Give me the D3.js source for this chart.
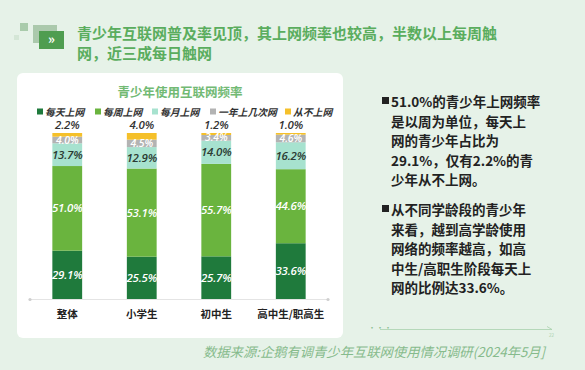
<!DOCTYPE html>
<html>
<head>
<meta charset="utf-8">
<script src="https://cdn.jsdelivr.net/npm/d3@7"></script>
<style>
  body { margin: 0; background: #e6f2e8; }
  svg { display: block; font-family: "Noto Sans CJK SC", "Noto Sans", sans-serif; }
</style>
</head>
<body>
<svg></svg>
<script>
const width = 585;
const height = 370;

// data
const categories = ['整体', '小学生', '初中生', '高中生/职高生'];
const seriesNames = ['每天上网', '每周上网', '每月上网', '一年上几次网', '从不上网'];
const daily = [29.1, 25.5, 25.7, 33.6];
const weekly = [51.0, 53.1, 55.7, 44.6];
const monthly = [13.7, 12.9, 14.0, 16.2];
const yearly = [4.0, 4.5, 3.4, 4.6];
const never = [2.2, 4.0, 1.2, 1.0];
const colors = ['#1f7a3c', '#6ab43e', '#a7e2cf', '#b3b3b3', '#f5c02a'];
const labelColors = ['#ffffff', '#ffffff', '#2b3b33', '#ffffff', '#333333'];

const titleLines = ['青少年互联网普及率见顶，其上网频率也较高，半数以上每周触', '网，近三成每日触网'];
const noteParas = [
  ['51.0%的青少年上网频率', '是以周为单位，每天上', '网的青少年占比为', '29.1%，仅有2.2%的青', '少年从不上网。'],
  ['从不同学龄段的青少年', '来看，越到高学龄使用', '网络的频率越高，如高', '中生/高职生阶段每天上', '网的比例达33.6%。']
];
const source = '数据来源:企鹅有调青少年互联网使用情况调研(2024年5月]';

const rows = categories.map((c, i) => ({
  cat: c, '每天上网': daily[i], '每周上网': weekly[i], '每月上网': monthly[i],
  '一年上几次网': yearly[i], '从不上网': never[i]
}));

const svg = d3.select('svg')
  .attr('width', width)
  .attr('height', height);

svg.append('rect').attr('width', width).attr('height', height).attr('fill', '#e6f2e8');

// HEADER
svg.append('rect').attr('x', 14).attr('y', 35).attr('width', 5).attr('height', 5).attr('fill', '#d4e6d6');
svg.append('rect').attr('x', 20).attr('y', 23).attr('width', 8).attr('height', 8).attr('fill', '#a9cbab');
svg.append('rect').attr('x', 33).attr('y', 25).attr('width', 24).attr('height', 18).attr('fill', '#abc9ac');
svg.append('rect').attr('x', 39).attr('y', 31).attr('width', 25).attr('height', 18).attr('fill', '#4f9d50');
svg.append('text').attr('x', 51.5).attr('y', 44).attr('text-anchor', 'middle')
  .attr('fill', '#fff').attr('font-size', 13).attr('font-weight', 700).text('»');

svg.append('g').selectAll('text')
  .data(titleLines)
  .enter().append('text')
  .attr('x', 77)
  .attr('y', (d, i) => 38.5 + i * 20)
  .attr('font-size', 15)
  .attr('font-weight', 700)
  .attr('fill', '#5aad5e')
  .text(d => d);

// PANEL
svg.append('rect')
  .attr('x', 17).attr('y', 73).attr('width', 326).attr('height', 265)
  .attr('rx', 6).attr('fill', '#ffffff');

svg.append('text')
  .attr('x', 180).attr('y', 96.5)
  .attr('text-anchor', 'middle')
  .attr('font-size', 12.5).attr('font-weight', 700)
  .attr('fill', '#72ba74')
  .text('青少年使用互联网频率');

// legend
const legendX = [37, 95, 152, 210, 285];
const legend = svg.append('g').selectAll('g')
  .data(seriesNames)
  .enter().append('g')
  .attr('transform', (d, i) => `translate(${legendX[i]},112)`);
legend.append('rect').attr('x', 0).attr('y', -3.5).attr('width', 6).attr('height', 6)
  .attr('fill', (d, i) => colors[i]);
legend.append('text').attr('x', 8).attr('y', 3.5)
  .attr('font-size', 9.8).attr('font-weight', 700).attr('font-style', 'italic')
  .attr('fill', '#333').text(d => d);

// SCALES
const x = d3.scaleBand().domain(categories).range([30, 328]).paddingInner(0.6).paddingOuter(0.3);
const y = d3.scaleLinear().domain([0, 100]).range([299, 133]);

const stacked = d3.stack().keys(seriesNames)(rows);

// axis
svg.append('line').attr('x1', 30).attr('x2', 328).attr('y1', y(0) + 0.5).attr('y2', y(0) + 0.5)
  .attr('stroke', '#e4e4e4').attr('stroke-width', 1);
svg.append('g').selectAll('circle').data([30, 328]).enter().append('circle')
  .attr('cx', d => d).attr('cy', y(0) + 0.5).attr('r', 1.6).attr('fill', '#cfcfcf');

const layers = svg.append('g').selectAll('g')
  .data(stacked)
  .enter().append('g')
  .attr('fill', (d, i) => colors[i]);

layers.selectAll('rect')
  .data(d => d)
  .enter().append('rect')
  .attr('x', d => x(d.data.cat))
  .attr('width', x.bandwidth())
  .attr('y', d => y(d[1]))
  .attr('height', d => y(d[0]) - y(d[1]));

// value labels
const labelSize = [11.5, 11.5, 11.5, 10.5, 11.5];
stacked.forEach((layer, li) => {
  svg.append('g').selectAll('text')
    .data(layer)
    .enter().append('text')
    .attr('x', d => x(d.data.cat) + x.bandwidth() / 2)
    .attr('y', d => li === 4 ? y(d[1]) - 8 : y((d[0] + d[1]) / 2))
    .attr('dy', '0.35em')
    .attr('text-anchor', 'middle')
    .attr('font-family', '"Open Sans", sans-serif')
    .attr('font-size', labelSize[li])
    .attr('font-weight', 600)
    .attr('font-style', 'italic')
    .attr('letter-spacing', -0.2)
    .attr('fill', labelColors[li])
    .text(d => (d[1] - d[0]).toFixed(1) + '%');
});

// category labels
svg.append('g').selectAll('text')
  .data(categories)
  .enter().append('text')
  .attr('x', d => x(d) + x.bandwidth() / 2)
  .attr('y', 318)
  .attr('text-anchor', 'middle')
  .attr('font-size', 10.5).attr('font-weight', 700)
  .attr('fill', '#222')
  .text(d => d);

// RIGHT NOTES
noteParas.forEach((lines, p) => {
  const top = p === 0 ? 102 : 210;
  svg.append('rect').attr('x', 382).attr('y', top - 5).attr('width', 7).attr('height', 7).attr('fill', '#222');
  svg.append('g').selectAll('text')
    .data(lines)
    .enter().append('text')
    .attr('x', 391)
    .attr('y', (d, i) => top + 5 + i * 19.6)
    .attr('font-size', 13.5)
    .attr('font-weight', 700)
    .attr('fill', '#222')
    .text(d => d);
});

// dotted arrow
svg.append('text').attr('x', 368).attr('y', 331).attr('font-size', 8).attr('fill', '#8dbf92').text('···');
svg.append('line').attr('x1', 380).attr('x2', 552).attr('y1', 329.5).attr('y2', 329.5)
  .attr('stroke', '#a8d0ac').attr('stroke-width', 0.8);
svg.append('path').attr('d', 'M547,326.5 L552,329.5').attr('stroke', '#a8d0ac').attr('stroke-width', 0.8).attr('fill', 'none');
svg.append('text').attr('x', 549).attr('y', 337).attr('font-size', 4.5).attr('fill', '#a8d0ac').text('22');

// source
svg.append('text')
  .attr('x', 203).attr('y', 357)
  .attr('font-size', 13.3)
  .attr('font-style', 'italic')
  .attr('fill', '#86bb8c')
  .text(source);
</script>
</body>
</html>
